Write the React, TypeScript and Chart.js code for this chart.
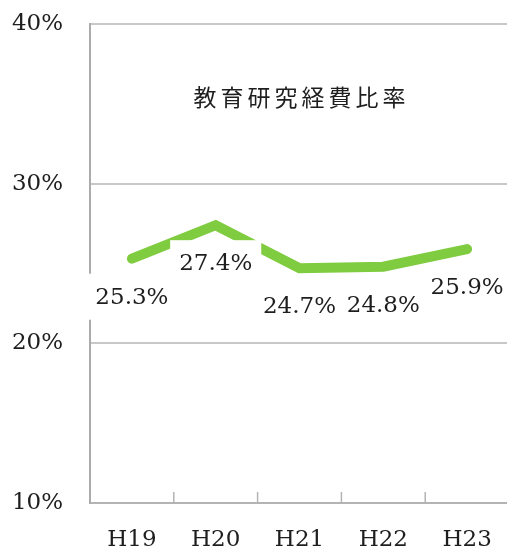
import React, { useEffect, useRef } from "react";
import { Chart, registerables } from "chart.js";

Chart.register(...registerables);

const categories = ["H19", "H20", "H21", "H22", "H23"];
const ratioValues = [25.3, 27.4, 24.7, 24.8, 25.9];
const yTicks = [10, 20, 30, 40];
const chartTitle = "教育研究経費比率";

const SERIF = '"DejaVu Serif", "Liberation Serif", serif';

const labelPlugin = {
  id: "boxedLabels",
  afterDatasetsDraw(chart: any) {
    const ctx = chart.ctx;
    const meta = chart.getDatasetMeta(0);
    ctx.save();
    ctx.font = `23px ${SERIF}`;
    ctx.textAlign = "center";
    ctx.textBaseline = "middle";
    meta.data.forEach((pt: any, i: number) => {
      const text = ratioValues[i].toFixed(1) + "%";
      const w = ctx.measureText(text).width;
      const cx = pt.x;
      const cy = pt.y + 38;
      ctx.fillStyle = "#ffffff";
      ctx.fillRect(cx - w / 2 - 9, cy - 23, w + 18, 46);
      ctx.fillStyle = "#1e1e1e";
      ctx.fillText(text, cx, cy + 1);
    });
    ctx.restore();
  },
};

const decorPlugin = {
  id: "decor",
  beforeDatasetsDraw(chart: any) {
    const ctx = chart.ctx;
    const area = chart.chartArea;
    const xs = chart.scales.x;
    ctx.save();
    ctx.strokeStyle = "#b4b4b4";
    ctx.lineWidth = 1.5;
    for (let i = 0; i < categories.length - 1; i++) {
      const x = (xs.getPixelForValue(i) + xs.getPixelForValue(i + 1)) / 2;
      ctx.beginPath();
      ctx.moveTo(x, area.bottom - 11);
      ctx.lineTo(x, area.bottom);
      ctx.stroke();
    }
    ctx.font = '23px "Noto Sans CJK JP", sans-serif';
    (ctx as any).letterSpacing = "4px";
    ctx.textAlign = "left";
    ctx.textBaseline = "middle";
    ctx.fillStyle = "#1e1e1e";
    const w = ctx.measureText(chartTitle).width - 4;
    ctx.fillText(chartTitle, (area.left + area.right) / 2 - w / 2, area.top + 73);
    ctx.restore();
  },
};

export default function App() {
  const ref = useRef<HTMLCanvasElement>(null);
  useEffect(() => {
    if (!ref.current) return;
    const chart = new Chart(ref.current, {
      type: "line",
      data: {
        labels: categories,
        datasets: [
          {
            data: ratioValues,
            borderColor: "#80cc40",
            borderWidth: 10,
            borderCapStyle: "round",
            borderJoinStyle: "miter",
            pointRadius: 0,
            tension: 0,
            fill: false,
          },
        ],
      },
      options: {
        animation: false,
        responsive: false,
        devicePixelRatio: 1,
        layout: { padding: { top: 24, right: 6, left: 0, bottom: 0 } },
        plugins: { legend: { display: false }, tooltip: { enabled: false }, title: { display: false } },
        scales: {
          x: {
            offset: true,
            grid: { display: false, drawTicks: false },
            border: { display: true, color: "#b4b4b4", width: 2 },
            ticks: { font: { family: SERIF, size: 23 }, color: "#1e1e1e", padding: 23 },
            afterFit: (s: any) => {
              s.height = 49;
              s.paddingLeft = 0;
              s.paddingRight = 0;
            },
          },
          y: {
            min: 10,
            max: 40,
            afterBuildTicks: (s: any) => {
              s.ticks = yTicks.map((v) => ({ value: v }));
            },
            ticks: {
              font: { family: SERIF, size: 23 },
              color: "#1e1e1e",
              padding: 27,
              callback: (v: any) => v + "%",
            },
            grid: { color: "#c8c8c8", lineWidth: 2, drawTicks: false },
            border: { display: true, color: "#ababab", width: 2 },
            afterFit: (s: any) => {
              s.width = 90;
              s.paddingTop = 0;
              s.paddingBottom = 0;
            },
          },
        },
      },
      plugins: [decorPlugin, labelPlugin],
    } as any);
    return () => chart.destroy();
  }, []);
  return (
    <div style={{ position: "absolute", left: 0, top: 0, width: 515, height: 552, background: "#fff" }}>
      <canvas ref={ref} width={515} height={552} style={{ display: "block" }} />
    </div>
  );
}
